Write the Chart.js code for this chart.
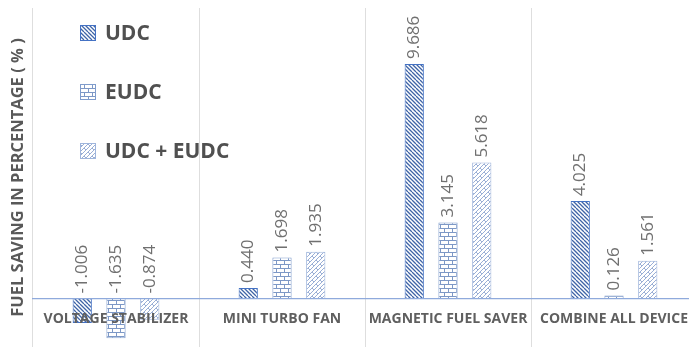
<!DOCTYPE html>
<html>
<head>
<meta charset="utf-8">
<script src="https://cdn.jsdelivr.net/npm/chart.js@4"></script>
<style>
  body { margin: 0; background: #fff; overflow: hidden; }
  #wrap { width: 700px; height: 347px; }
</style>
</head>
<body>
<div id="wrap"><canvas id="chart"></canvas></div>
<script>
const devices = ["VOLTAGE STABILIZER", "MINI TURBO FAN", "MAGNETIC FUEL SAVER", "COMBINE ALL DEVICE"];
const udc = [-1.006, 0.440, 9.686, 4.025];
const eudc = [-1.635, 1.698, 3.145, 0.126];
const combined = [-0.874, 1.935, 5.618, 1.561];

function makePattern(kind) {
  const c = document.createElement("canvas");
  const ctx = c.getContext("2d");
  c.width = 8; c.height = 8;
  ctx.fillStyle = "#fff"; ctx.fillRect(0, 0, 8, 8);
  ctx.beginPath();
  if (kind === "diag") {
    ctx.strokeStyle = "#3f64a6"; ctx.lineWidth = 1.3;
    for (let k = -8; k <= 8; k += 4) {
      ctx.moveTo(k, 0); ctx.lineTo(k + 8, 8);
    }
  } else if (kind === "brick") {
    ctx.strokeStyle = "#7d98c6"; ctx.lineWidth = 1;
    ctx.moveTo(0, 0.5); ctx.lineTo(8, 0.5);
    ctx.moveTo(0, 4.5); ctx.lineTo(8, 4.5);
    ctx.moveTo(0.5, 0); ctx.lineTo(0.5, 4);
    ctx.moveTo(4.5, 4); ctx.lineTo(4.5, 8);
  } else {
    ctx.strokeStyle = "#9aafd6"; ctx.lineWidth = 1;
    for (let k = -8; k <= 16; k += 4) {
      ctx.moveTo(k, 8); ctx.lineTo(k + 8, 0);
    }
    ctx.moveTo(0, 0); ctx.lineTo(2, 2);
    ctx.moveTo(4, 4); ctx.lineTo(6, 6);
  }
  ctx.stroke();
  return ctx.createPattern(c, "repeat");
}

const patUdc = makePattern("diag");
const patEudc = makePattern("brick");
const patBoth = makePattern("zig");

// value labels, rotated, sitting above each bar (or above the zero line for negatives)
const valueLabels = {
  id: "valueLabels",
  afterDatasetsDraw(chart) {
    const ctx = chart.ctx;
    const zero = chart.scales.y.getPixelForValue(0);
    ctx.save();
    ctx.font = "17px 'Open Sans'";
    ctx.fillStyle = "#707070";
    ctx.textAlign = "left";
    ctx.textBaseline = "middle";
    chart.data.datasets.forEach((ds, i) => {
      chart.getDatasetMeta(i).data.forEach((bar, j) => {
        const v = ds.data[j];
        const y = (v >= 0 ? bar.y : zero) - 5;
        ctx.save();
        ctx.translate(bar.x, y);
        ctx.rotate(-Math.PI / 2);
        ctx.fillText(v.toFixed(3), 0, 0);
        ctx.restore();
      });
    });
    ctx.restore();
  }
};

// stacked legend in the upper left of the plot
const stackedLegend = {
  id: "stackedLegend",
  afterDraw(chart) {
    const ctx = chart.ctx;
    ctx.save();
    ctx.font = "bold 21px 'Open Sans'";
    ctx.textBaseline = "middle";
    chart.data.datasets.forEach((ds, i) => {
      const y = 33 + i * 59;
      ctx.fillStyle = ds.backgroundColor;
      ctx.fillRect(80, y - 8, 16, 16);
      ctx.strokeStyle = ds.borderColor;
      ctx.lineWidth = 1;
      ctx.strokeRect(80.5, y - 7.5, 15, 15);
      ctx.fillStyle = "#505050";
      ctx.fillText(ds.label, 105, y + 1);
    });
    ctx.restore();
  }
};

chart = new Chart(document.getElementById("chart"), {
  type: "bar",
  data: {
    labels: devices,
    datasets: [
      { label: "UDC", data: udc, backgroundColor: patUdc, borderColor: "#4472c4", borderWidth: 1 },
      { label: "EUDC", data: eudc, backgroundColor: patEudc, borderColor: "#7f9ccc", borderWidth: 1 },
      { label: "UDC + EUDC", data: combined, backgroundColor: patBoth, borderColor: "#9fb5dc", borderWidth: 1 }
    ]
  },
  options: {
    responsive: true,
    maintainAspectRatio: false,
    animation: false,
    devicePixelRatio: 1,
    categoryPercentage: 0.61,
    barPercentage: 0.57,
    layout: { padding: { top: 8, left: 0, right: 0, bottom: 0 } },
    plugins: { legend: { display: false }, tooltip: { enabled: false } },
    scales: {
      x: {
        position: { y: 0 },
        grid: { color: "#dedede", drawTicks: false, offset: true },
        border: { color: "#8faadc", width: 1.2, z: 1 },
        ticks: { z: 1, color: "#5f5f5f", font: { family: "Open Sans", weight: "bold", size: 14 }, padding: 12 }
      },
      y: {
        min: -2,
        max: 12,
        afterFit: s => { s.width = 33; },
        grid: { display: false },
        border: { display: false },
        ticks: { display: false },
        title: {
          display: true,
          text: "FUEL SAVING IN PERCENTAGE ( % )",
          color: "#595959",
          font: { family: "Open Sans", weight: "bold", size: 16.5 },
          padding: { top: 8, bottom: 0 }
        }
      }
    }
  },
  plugins: [valueLabels, stackedLegend]
});
</script>
</body>
</html>
